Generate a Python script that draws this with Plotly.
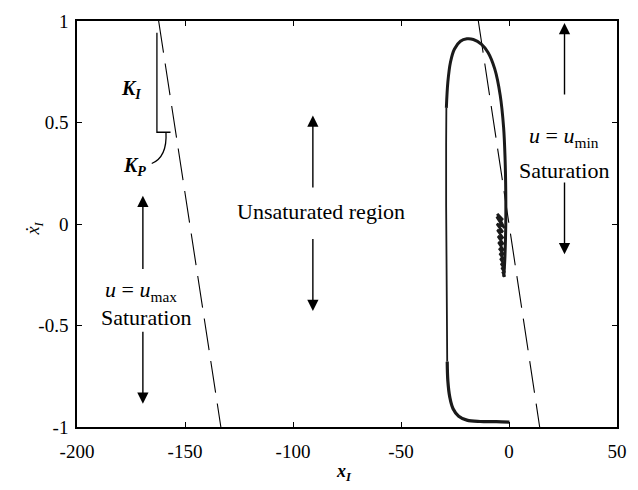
import plotly.graph_objects as go

# Trajectory (x_I, dx_I)
bottom_x = [0.2, -5.9, -13.4, -19.5, -23.3, -25.9, -27.4, -28.3, -28.6]
bottom_y = [-0.976, -0.974, -0.973, -0.966, -0.947, -0.910, -0.854, -0.774, -0.678]

left_x = [-28.6, -28.9, -29.1, -29.1, -29.1, -29.0]
left_y = [-0.678, -0.4, -0.1, 0.091, 0.4, 0.572]

top_x = [-29.0, -28.3, -27.1, -25.3, -22.5, -19.5, -16.5, -12.7, -9.7, -6.6, -4.1,
         -2.5, -1.8, -1.5, -1.5, -1.9, -2.4]
top_y = [0.572, 0.70, 0.797, 0.861, 0.90, 0.912, 0.909, 0.885, 0.845, 0.764, 0.636,
         0.476, 0.316, 0.155, -0.005, -0.165, -0.26]

blob_x = [-2.2, -5.4, -2.8, -5.7, -3.0, -5.6, -2.8, -5.4, -2.7, -5.1, -2.6, -4.9,
          -2.5, -4.6, -2.4, -4.3, -2.3, -4.0, -2.2, -3.7, -2.1, -3.4, -2.0, -3.0,
          -2.0, -2.7]
blob_y = [-0.02, 0.05, 0.02, 0.035, -0.01, 0.0, -0.04, -0.03, -0.07, -0.06, -0.10,
          -0.09, -0.13, -0.12, -0.15, -0.145, -0.175, -0.17, -0.2, -0.195, -0.22,
          -0.215, -0.24, -0.235, -0.26, -0.25]

# Switching lines (dashed)
sw_left_x = [-162.2, -133.4]
sw_right_x = [-14.2, 14.2]
sw_y = [1.0, -1.0]

# Axis ticks
x_ticks = [-200, -150, -100, -50, 0, 50]
y_ticks = [-1, -0.5, 0, 0.5, 1]
y_tick_text = ["-1", "-0.5", "0", "0.5", "1"]

fig = go.Figure()
line_col = "#1a1a1a"
dash = "32px,11px"
fig.add_trace(go.Scatter(x=sw_left_x, y=sw_y, mode="lines",
                         line=dict(color="black", width=1.1, dash=dash), showlegend=False))
fig.add_trace(go.Scatter(x=sw_right_x, y=sw_y, mode="lines",
                         line=dict(color="black", width=1.1, dash=dash), showlegend=False))
fig.add_trace(go.Scatter(x=bottom_x, y=bottom_y, mode="lines",
                         line=dict(color=line_col, width=3.2, shape="spline"), showlegend=False))
fig.add_trace(go.Scatter(x=left_x, y=left_y, mode="lines",
                         line=dict(color=line_col, width=1.8), showlegend=False))
fig.add_trace(go.Scatter(x=top_x, y=top_y, mode="lines",
                         line=dict(color=line_col, width=3.0, shape="spline"), showlegend=False))
fig.add_trace(go.Scatter(x=blob_x, y=blob_y, mode="lines",
                         line=dict(color=line_col, width=2.6), showlegend=False))

serif = "Liberation Serif"

# Arrow groups: (x, tail_y, head_y)
arrows = [
    (-169.5, -0.229, 0.139), (-169.5, -0.524, -0.885),
    (-90.8, 0.173, 0.534), (-90.8, -0.067, -0.428),
    (25.7, 0.63, 0.99), (25.7, 0.212, -0.149),
]
anns = []
for ax_, ty, hy in arrows:
    anns.append(dict(x=ax_, y=hy, ax=ax_, ay=ty, xref="x", yref="y", axref="x", ayref="y",
                     text="", showarrow=True, arrowhead=2, arrowsize=1.6, arrowwidth=1.4,
                     arrowcolor="black"))

texts = [
    (-170.3, -0.33, "<i>u</i> = <i>u</i><sub>max</sub>", 22),
    (-168.2, -0.462, "Saturation", 22),
    (-87.1, 0.06, "Unsaturated region", 22),
    (25.3, 0.43, "<i>u</i> = <i>u</i><sub>min</sub>", 22),
    (25.3, 0.262, "Saturation", 22),
]
for tx, ty, t, fs in texts:
    anns.append(dict(x=tx, y=ty, xref="x", yref="y", text=t, showarrow=False,
                     font=dict(family=serif, size=fs, color="black")))

k_texts = [
    (-175.0, 0.665, "<b><i>K</i></b><sub><b><i>I</i></b></sub>"),
    (-173.6, 0.282, "<b><i>K</i></b><sub><b><i>P</i></b></sub>"),
]
for tx, ty, t in k_texts:
    anns.append(dict(x=tx, y=ty, xref="x", yref="y", text=t, showarrow=False,
                     font=dict(family=serif, size=20, color="black")))

anns.append(dict(x=-0.104, y=0.49, xref="paper", yref="paper", textangle=-90,
                 text="<i>ẋ</i><sub><i>I</i></sub>", showarrow=False,
                 font=dict(family=serif, size=18, color="black")))
anns.append(dict(x=0.495, y=-0.113, xref="paper", yref="paper", yanchor="middle",
                 text="<b><i>x</i></b><sub><b><i>I</i></b></sub>", showarrow=False,
                 font=dict(family=serif, size=18, color="black")))

# K_I / K_P bracket shapes
br_x = [-163.0, -163.0, -156.7]
br_y = [0.942, 0.452, 0.452]
shapes = [
    dict(type="path", xref="x", yref="y",
         path=f"M {br_x[0]},{br_y[0]} L {br_x[1]},{br_y[1]} L {br_x[2]},{br_y[2]}",
         line=dict(color="black", width=1.3)),
    dict(type="path", xref="x", yref="y",
         path="M -158.8,0.452 Q -158.2,0.33 -165.4,0.298",
         line=dict(color="black", width=1.3)),
]

fig.update_layout(
    width=638, height=490, margin=dict(l=77, r=12, t=11, b=63),
    paper_bgcolor="white", plot_bgcolor="white",
    annotations=anns, shapes=shapes,
    font=dict(family=serif, size=19, color="black"),
)
fig.update_xaxes(range=[-200, 50], tickvals=x_ticks, ticktext=[str(v) for v in x_ticks],
                 showgrid=False, zeroline=False, showline=True, linecolor="black", linewidth=1.5,
                 mirror="ticks", ticks="inside", ticklen=5, tickcolor="black", tickwidth=1.2,
                 tickfont=dict(family=serif, size=19), ticklabelstandoff=6)
fig.update_yaxes(range=[-1, 1], tickvals=y_ticks, ticktext=y_tick_text,
                 showgrid=False, zeroline=False, showline=True, linecolor="black", linewidth=1.5,
                 mirror="ticks", ticks="inside", ticklen=5, tickcolor="black", tickwidth=1.2,
                 tickfont=dict(family=serif, size=19), ticklabelstandoff=3)

fig.write_html("out.html")
